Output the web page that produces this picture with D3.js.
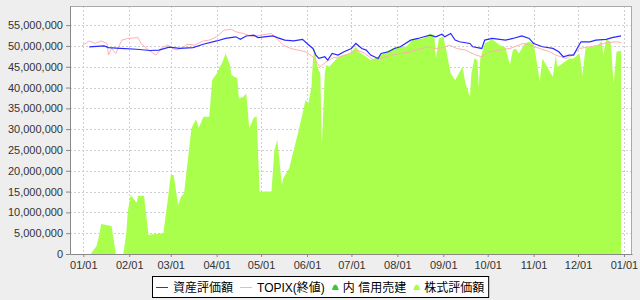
<!DOCTYPE html>
<html>
<head>
<meta charset="utf-8">
<script src="https://cdn.jsdelivr.net/npm/d3@7"></script>
<style>
  body { margin: 0; background: #eeeeee; }
  svg { display: block; font-family: "Liberation Sans", Arial, sans-serif; }
  .axis text { font-size: 11px; fill: #333; }
  .axis path, .axis line { stroke: #888; }
  .legend text { font-family: "Liberation Sans", "Noto Sans CJK JP", sans-serif; font-size: 12px; fill: #000; }
</style>
</head>
<body>
<svg id="chart" width="640" height="300"></svg>
<script>
// 資産評価額
const assetDates = ["2014-01-05","2014-01-15","2014-01-18","2014-01-26","2014-02-06","2014-02-15","2014-02-21","2014-02-28",
  "2014-03-07","2014-03-16","2014-03-23","2014-04-01","2014-04-07","2014-04-14","2014-04-17","2014-04-21","2014-04-26",
  "2014-04-29","2014-05-03","2014-05-09","2014-05-12","2014-05-17","2014-05-23","2014-05-29","2014-06-01","2014-06-05",
  "2014-06-07","2014-06-09","2014-06-13","2014-06-15","2014-06-18","2014-06-22","2014-06-26","2014-07-01","2014-07-04",
  "2014-07-08","2014-07-11","2014-07-14","2014-07-19","2014-07-21","2014-07-26","2014-07-30","2014-08-03","2014-08-10",
  "2014-08-15","2014-08-19","2014-08-23","2014-08-27","2014-08-31","2014-09-02","2014-09-06","2014-09-09","2014-09-12",
  "2014-09-19","2014-09-21","2014-09-27","2014-09-29","2014-10-04","2014-10-13","2014-10-18","2014-10-24","2014-10-29",
  "2014-11-01","2014-11-07","2014-11-14","2014-11-18","2014-11-21","2014-11-25","2014-11-28","2014-12-01","2014-12-03",
  "2014-12-09","2014-12-13","2014-12-20","2014-12-24","2014-12-30"];
const assetValues = [49800000,50000000,49600000,49400000,49200000,48900000,49000000,49700000,
  49400000,49600000,50400000,51200000,51800000,52200000,51600000,52400000,52600000,
  52000000,52200000,52400000,52000000,51400000,51200000,51600000,50600000,49400000,
  47800000,47000000,47400000,46600000,48200000,47800000,48600000,49400000,50600000,
  49400000,49000000,47800000,47000000,48200000,48600000,49400000,49800000,51400000,
  51800000,52200000,52600000,52200000,52800000,52200000,53000000,51400000,51000000,
  50600000,49800000,49400000,51400000,51800000,51400000,51800000,52400000,51800000,
  50600000,49800000,49400000,48600000,47400000,47800000,47800000,49800000,51000000,
  51000000,51400000,51600000,52000000,52400000];

// TOPIX(終値)
const topixDates = ["2013-12-31","2014-01-05","2014-01-09","2014-01-13","2014-01-17","2014-01-18","2014-01-20","2014-01-23",
  "2014-01-27","2014-01-31","2014-02-07","2014-02-09","2014-02-14","2014-02-19","2014-02-23","2014-02-27","2014-03-02",
  "2014-03-05","2014-03-09","2014-03-12","2014-03-17","2014-03-23","2014-03-27","2014-04-01","2014-04-06","2014-04-11",
  "2014-04-14","2014-04-19","2014-04-25","2014-05-01","2014-05-08","2014-05-11","2014-05-16","2014-05-21","2014-05-26",
  "2014-05-31","2014-06-05","2014-06-08","2014-06-10","2014-06-14","2014-06-19","2014-06-24","2014-07-01","2014-07-05",
  "2014-07-10","2014-07-16","2014-07-21","2014-07-28","2014-08-03","2014-08-10","2014-08-17","2014-08-21","2014-08-27",
  "2014-09-01","2014-09-05","2014-09-10","2014-09-16","2014-09-23","2014-09-27","2014-10-02","2014-10-09","2014-10-16",
  "2014-10-25","2014-10-29","2014-11-05","2014-11-12","2014-11-16","2014-11-23","2014-11-27","2014-12-02","2014-12-09",
  "2014-12-15","2014-12-20","2014-12-27","2014-12-30"];
const topixValues = [50000000,51200000,50600000,51200000,50600000,47800000,49400000,48200000,
  51400000,51800000,52000000,50600000,49000000,47800000,49600000,50200000,49400000,
  49000000,49600000,50400000,50200000,51200000,51400000,52200000,53800000,54000000,
  53400000,53000000,52200000,52600000,53000000,52000000,50200000,49400000,49000000,
  48600000,47400000,45800000,45000000,46200000,47200000,47400000,48400000,49000000,
  48200000,46600000,47000000,47800000,48200000,48600000,49400000,49800000,49400000,
  49600000,50200000,49400000,49000000,47800000,47400000,48600000,49000000,49400000,
  50600000,50200000,49400000,48600000,47800000,47000000,47800000,49400000,49800000,
  50200000,50800000,51000000,50800000];

// 株式評価額
const stockDates = ["2014-01-06","2014-01-10","2014-01-12","2014-01-13","2014-01-20","2014-01-23","2014-01-28","2014-01-30",
  "2014-01-31","2014-02-02","2014-02-06","2014-02-07","2014-02-11","2014-02-14","2014-02-24","2014-02-27","2014-03-01",
  "2014-03-03","2014-03-06","2014-03-08","2014-03-10","2014-03-15","2014-03-18","2014-03-20","2014-03-23","2014-03-27",
  "2014-03-29","2014-04-01","2014-04-05","2014-04-07","2014-04-10","2014-04-11","2014-04-15","2014-04-16","2014-04-19",
  "2014-04-21","2014-04-23","2014-04-26","2014-04-28","2014-04-30","2014-05-08","2014-05-10","2014-05-12","2014-05-15",
  "2014-05-16","2014-05-20","2014-05-22","2014-05-27","2014-05-31","2014-06-02","2014-06-04","2014-06-05","2014-06-06",
  "2014-06-08","2014-06-10","2014-06-11","2014-06-13","2014-06-14","2014-06-16","2014-06-18","2014-06-21","2014-06-25",
  "2014-06-30","2014-07-04","2014-07-06","2014-07-11","2014-07-14","2014-07-19","2014-07-24","2014-07-31","2014-08-07",
  "2014-08-11","2014-08-18","2014-08-24","2014-08-26","2014-08-27","2014-08-29","2014-09-01","2014-09-03","2014-09-06",
  "2014-09-09","2014-09-11","2014-09-14","2014-09-16","2014-09-19","2014-09-20","2014-09-22","2014-09-24","2014-09-25",
  "2014-09-26","2014-09-29","2014-10-04","2014-10-09","2014-10-13","2014-10-16","2014-10-18","2014-10-20","2014-10-22",
  "2014-10-26","2014-10-29","2014-11-01","2014-11-04","2014-11-05","2014-11-07","2014-11-12","2014-11-14","2014-11-16",
  "2014-11-17","2014-11-19","2014-11-25","2014-11-28","2014-12-02","2014-12-04","2014-12-06","2014-12-11","2014-12-14",
  "2014-12-17","2014-12-18","2014-12-20","2014-12-23","2014-12-25","2014-12-27","2014-12-29","2014-12-30"];
const stockValues = [0,2000000,5000000,7200000,6700000,0,0,5000000,
  10200000,14200000,12300000,14000000,14000000,4600000,5000000,13000000,19000000,
  19000000,11800000,13800000,14600000,30200000,32400000,30300000,33000000,33000000,
  41800000,43400000,46200000,48200000,45400000,43000000,42200000,37400000,37800000,
  38600000,30300000,32700000,33100000,15000000,15000000,25000000,27400000,16600000,
  18200000,20600000,23500000,30600000,37000000,36200000,40200000,46600000,49600000,
  45000000,43400000,25800000,43400000,45400000,45000000,45800000,47000000,47800000,
  48200000,49800000,48600000,47400000,46600000,47400000,48600000,49800000,49800000,
  51400000,51800000,53000000,52400000,47000000,51800000,52200000,49000000,43400000,
  41800000,43000000,45000000,41000000,37800000,43400000,47000000,46600000,40200000,
  47000000,50600000,51600000,50200000,49600000,45400000,49000000,49400000,48200000,
  50600000,51000000,50600000,44200000,41400000,47000000,43800000,42600000,47800000,
  45000000,45400000,47000000,47000000,48200000,43000000,49400000,50000000,50000000,
  51200000,47800000,51600000,51000000,41000000,48600000,48800000,48800000];

const seriesNames = ["資産評価額", "TOPIX(終値)", "内 信用売建", "株式評価額"];
const yTicks = [0, 5000000, 10000000, 15000000, 20000000, 25000000, 30000000, 35000000, 40000000, 45000000, 50000000, 55000000];

const parseDate = d3.utcParse("%Y-%m-%d");
const toRows = (dates, values) => dates.map((d, i) => ({ date: parseDate(d), value: values[i] }));

const asset = toRows(assetDates, assetValues);
const topix = toRows(topixDates, topixValues);
const stock = toRows(stockDates, stockValues);

const svg = d3.select("#chart");
const plot = { left: 70, top: 6, right: 632, bottom: 254 };

const x = d3.scaleUtc()
  .domain([Date.UTC(2013, 11, 23), Date.UTC(2015, 0, 6, 10)])
  .range([plot.left, plot.right]);
const y = d3.scaleLinear().domain([0, 59600000]).range([plot.bottom, plot.top]);
const monthTicks = d3.utcMonths(Date.UTC(2014, 0, 1), Date.UTC(2015, 0, 2));

svg.append("rect")
  .attr("x", plot.left).attr("y", plot.top)
  .attr("width", plot.right - plot.left).attr("height", plot.bottom - plot.top)
  .attr("fill", "#fff");

// grid
const grid = svg.append("g").attr("stroke", "#cfcfcf").attr("stroke-dasharray", "2,2").attr("shape-rendering", "crispEdges");
grid.selectAll(".h").data(yTicks.slice(1)).join("line")
  .attr("x1", plot.left).attr("x2", plot.right)
  .attr("y1", d => Math.round(y(d)) + 0.5).attr("y2", d => Math.round(y(d)) + 0.5);
grid.selectAll(".v").data(monthTicks).join("line")
  .attr("y1", plot.top).attr("y2", plot.bottom)
  .attr("x1", d => Math.round(x(d)) + 0.5).attr("x2", d => Math.round(x(d)) + 0.5);

// series
const area = d3.area().x(d => x(d.date)).y0(y(0)).y1(d => y(d.value));
const line = d3.line().x(d => x(d.date)).y(d => y(d.value));

svg.append("path").datum(stock).attr("d", area).attr("fill", "#aaff4d");
svg.append("path").datum(topix).attr("d", line)
  .attr("fill", "none").attr("stroke", "#ffb0b0").attr("stroke-width", 1);
svg.append("path").datum(asset).attr("d", line)
  .attr("fill", "none").attr("stroke", "#2a2aff").attr("stroke-width", 1.2);

// outline
svg.append("rect")
  .attr("x", plot.left + 0.5).attr("y", plot.top + 0.5)
  .attr("width", plot.right - plot.left - 1).attr("height", plot.bottom - plot.top)
  .attr("fill", "none").attr("stroke", "#aaa");

// axes
svg.append("g").attr("class", "axis")
  .attr("transform", `translate(${plot.left},0)`)
  .call(d3.axisLeft(y).tickValues(yTicks).tickFormat(d3.format(",")).tickSize(4).tickPadding(3).tickSizeOuter(0));

svg.append("g").attr("class", "axis")
  .attr("transform", `translate(0,${plot.bottom})`)
  .call(d3.axisBottom(x).tickValues(monthTicks).tickFormat(d3.utcFormat("%m/%d")).tickSize(3).tickPadding(4).tickSizeOuter(0));

// legend
const legend = svg.append("g").attr("class", "legend");
const box = legend.append("rect").attr("fill", "#fff").attr("stroke", "#000");
const markerKinds = ["line", "line", "area", "area"];
const markerColors = ["#2a2aff", "#ffb0b0", "#33cc33", "#aaff4d"];
let cx = 4;
const legendY = 287;
seriesNames.forEach((name, i) => {
  const g = legend.append("g");
  if (markerKinds[i] === "line") {
    g.append("line").attr("x1", cx).attr("x2", cx + 12).attr("y1", legendY + 0.5).attr("y2", legendY + 0.5)
      .attr("stroke", markerColors[i]);
    cx += 17;
  } else {
    g.append("path")
      .attr("d", `M${cx},${legendY + 3}L${cx + 1.5},${legendY - 1}Q${cx + 3.5},${legendY - 4} ${cx + 5.5},${legendY - 1}L${cx + 7},${legendY + 3}Z`)
      .attr("fill", markerColors[i]);
    cx += 11;
  }
  const t = g.append("text").attr("x", cx).attr("y", legendY + 4.5).text(name);
  cx += t.node().getComputedTextLength() + 7;
});
const legendWidth = cx - 3;
box.attr("x", 0.5).attr("y", 276.5).attr("width", legendWidth).attr("height", 21);
legend.attr("transform", `translate(${Math.round(320 - legendWidth / 2)},0)`);
</script>
</body>
</html>
